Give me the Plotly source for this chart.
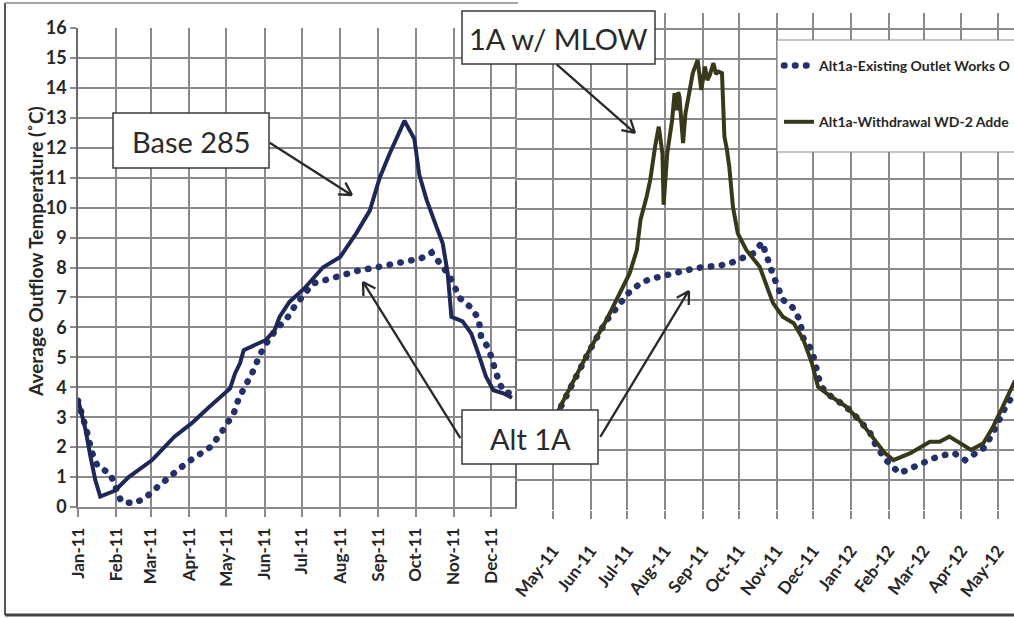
import math
import plotly.graph_objects as go

W, H = 1014, 618

# ---------------- data ----------------
base285_dates = ["2011-01-01","2011-01-05","2011-01-07","2011-01-11","2011-01-15","2011-01-19","2011-01-31",
    "2011-02-11","2011-03-02","2011-03-20","2011-04-03","2011-04-16","2011-04-27","2011-05-04","2011-05-08",
    "2011-05-12","2011-05-15","2011-05-25","2011-06-02","2011-06-09","2011-06-13","2011-06-21","2011-07-03",
    "2011-07-18","2011-08-01","2011-08-14","2011-08-25","2011-09-02","2011-09-10","2011-09-22","2011-09-30",
    "2011-10-04","2011-10-10","2011-10-18","2011-10-23","2011-10-27","2011-10-30","2011-11-08","2011-11-15",
    "2011-11-21","2011-11-27","2011-12-03","2011-12-11","2011-12-18"]
base285_vals = [3.6,3.0,2.6,1.7,0.9,0.35,0.55,1.0,1.57,2.35,2.8,3.3,3.68,3.96,4.46,4.8,5.24,5.41,5.58,5.9,
    6.35,6.85,7.3,8.0,8.35,9.14,9.9,11.0,11.8,12.9,12.3,11.1,10.25,9.35,8.8,7.8,6.35,6.2,5.8,5.1,4.35,3.9,3.8,3.65]

alt1a_left_dates = ["2011-01-01","2011-01-05","2011-01-09","2011-01-12","2011-01-17","2011-01-27","2011-02-05",
    "2011-02-15","2011-02-24","2011-03-04","2011-03-14","2011-03-22","2011-03-31","2011-04-09","2011-04-18",
    "2011-04-25","2011-05-01","2011-05-07","2011-05-11","2011-05-17","2011-05-23","2011-05-28","2011-06-04",
    "2011-06-11","2011-06-19","2011-06-25","2011-07-10","2011-07-20","2011-07-29","2011-08-08","2011-08-17",
    "2011-08-26","2011-09-06","2011-09-16","2011-09-25","2011-10-05","2011-10-14","2011-10-28","2011-11-06",
    "2011-11-14","2011-11-21","2011-11-23","2011-11-29","2011-12-03","2011-12-07","2011-12-11","2011-12-17"]
alt1a_left_vals = [3.55,3.0,2.4,1.85,1.35,1.12,0.18,0.12,0.29,0.59,0.9,1.21,1.51,1.74,2.0,2.37,2.74,3.13,3.63,
    4.07,4.57,5.08,5.58,5.97,6.3,6.69,7.47,7.58,7.69,7.8,7.91,7.97,8.06,8.14,8.19,8.3,8.5,7.75,6.97,6.69,6.3,
    5.69,5.3,4.74,4.24,3.85,3.8]

existing_dates = ["2011-04-01","2011-05-01","2011-05-07","2011-05-18","2011-05-31","2011-06-14","2011-06-26",
    "2011-07-03","2011-07-12","2011-07-18","2011-07-28","2011-08-07","2011-08-16","2011-08-26","2011-09-04",
    "2011-09-14","2011-09-24","2011-10-03","2011-10-13","2011-10-20","2011-10-24","2011-10-29","2011-11-06",
    "2011-11-14","2011-11-20","2011-11-23","2011-11-30","2011-12-03","2011-12-07","2011-12-12","2011-12-28",
    "2012-01-08","2012-01-17","2012-01-22","2012-01-30","2012-02-10","2012-02-20","2012-03-01","2012-03-09",
    "2012-03-18","2012-03-26","2012-04-04","2012-04-12","2012-04-19","2012-04-26","2012-05-02","2012-05-08",
    "2012-05-15"]
existing_vals = [1.9,2.9,3.4,4.3,5.3,6.3,6.88,7.26,7.54,7.65,7.76,7.87,7.93,8.04,8.09,8.12,8.21,8.34,8.54,8.9,
    8.4,7.82,7.0,6.74,6.32,5.71,5.32,4.77,4.16,3.88,3.44,2.99,2.55,2.11,1.66,1.22,1.39,1.61,1.72,1.83,1.89,1.66,
    1.89,2.05,2.49,2.99,3.49,3.9]

wd2_dates = ["2011-04-01","2011-05-01","2011-05-07","2011-05-18","2011-05-31","2011-06-14","2011-06-25",
    "2011-07-03","2011-07-09","2011-07-12","2011-07-17","2011-07-20","2011-07-24","2011-07-27","2011-07-30",
    "2011-07-31","2011-08-03","2011-08-07","2011-08-09","2011-08-11","2011-08-12","2011-08-13","2011-08-16",
    "2011-08-18","2011-08-20","2011-08-22","2011-08-24","2011-08-28","2011-08-31","2011-09-03","2011-09-05",
    "2011-09-07","2011-09-10","2011-09-12","2011-09-14","2011-09-17","2011-09-19","2011-09-21","2011-09-23",
    "2011-09-26","2011-09-30","2011-10-07","2011-10-15","2011-10-18","2011-10-29","2011-11-06",
    "2011-11-15","2011-11-23","2011-11-30","2011-12-05","2011-12-12","2011-12-28","2012-01-08","2012-01-19",
    "2012-01-29","2012-02-05","2012-02-19","2012-03-06","2012-03-14","2012-03-22","2012-03-31","2012-04-09",
    "2012-04-19","2012-04-27","2012-05-05","2012-05-12","2012-05-15"]
wd2_vals = [1.8,2.9,3.44,4.32,5.32,6.32,7.2,7.87,8.65,9.65,10.42,10.98,12.09,12.75,11.87,10.15,11.87,12.97,
    13.86,13.3,13.9,13.75,12.2,13.2,13.64,14.1,14.53,14.97,13.97,14.75,14.3,14.47,14.86,14.5,14.58,14.53,12.42,
    12.0,11.42,10.09,9.2,8.65,8.21,8.09,6.88,6.43,6.21,5.66,4.88,4.1,3.88,3.44,2.99,2.44,1.89,1.66,1.89,2.27,
    2.27,2.44,2.22,2.0,2.22,2.77,3.44,4.1,4.3]

left_tick_dates = ["2011-%02d-01" % m for m in range(1, 13)]
left_tick_text = ["Jan-11","Feb-11","Mar-11","Apr-11","May-11","Jun-11","Jul-11","Aug-11","Sep-11",
                  "Oct-11","Nov-11","Dec-11"]
right_tick_dates = ["2011-05-01","2011-06-01","2011-07-01","2011-08-01","2011-09-01","2011-10-01",
                    "2011-11-01","2011-12-01","2012-01-01","2012-02-01","2012-03-01","2012-04-01","2012-05-01"]
right_tick_text = ["May-11","Jun-11","Jul-11","Aug-11","Sep-11","Oct-11","Nov-11","Dec-11","Jan-12",
                   "Feb-12","Mar-12","Apr-12","May-12"]

# ---------------- styling ----------------
GRID = "#8a8a8a"
NAVY = "#1e2757"
DOTBLUE = "#25306a"
OLIVE = "#38381a"
TXT = "#262626"
FONT = "Lato, Liberation Sans, sans-serif"
DOT_DASH = "0.5px,10.5px"

def px(x):
    return x / W

def py(y):
    return 1 - y / H

fig = go.Figure()

fig.add_trace(go.Scatter(x=alt1a_left_dates, y=alt1a_left_vals, mode="lines", xaxis="x", yaxis="y",
                         line=dict(color=DOTBLUE, width=6.5, dash=DOT_DASH), showlegend=False))
fig.add_trace(go.Scatter(x=base285_dates, y=base285_vals, mode="lines", xaxis="x", yaxis="y",
                         line=dict(color=NAVY, width=4), showlegend=False))
fig.add_trace(go.Scatter(x=existing_dates, y=existing_vals, mode="lines", xaxis="x2", yaxis="y2",
                         name="Alt1a-Existing Outlet Works O", legendgroup="a",
                         line=dict(color=DOTBLUE, width=6.5, dash=DOT_DASH)))
fig.add_trace(go.Scatter(x=wd2_dates, y=wd2_vals, mode="lines", xaxis="x2", yaxis="y2",
                         name="Alt1a-Withdrawal WD-2 Adde", legendgroup="b",
                         line=dict(color=OLIVE, width=4)))

ytickfont = dict(family=FONT, size=18, color=TXT, weight="bold")
xtickfont = dict(family=FONT, size=17, color=TXT, weight="bold")

fig.update_layout(
    width=W, height=H,
    margin=dict(l=0, r=0, t=0, b=0, autoexpand=False),
    paper_bgcolor="white", plot_bgcolor="white",
    xaxis=dict(domain=[px(78), px(515)], anchor="y", type="date",
               range=["2011-01-01", "2011-12-20 10:00"],
               tickmode="array", tickvals=left_tick_dates, ticktext=left_tick_text,
               tickangle=-90, tickfont=xtickfont, ticks="outside", ticklen=8, tickcolor=GRID,
               tickwidth=1.5, ticklabelstandoff=4,
               showgrid=True, gridcolor=GRID, gridwidth=1.5, showline=True, linecolor=GRID,
               linewidth=1.5, zeroline=False),
    yaxis=dict(domain=[py(507), py(28)], anchor="x", range=[0, 16], dtick=1,
               tickfont=ytickfont, ticks="outside", ticklen=6, tickcolor=GRID, tickwidth=1.5,
               showgrid=True, gridcolor=GRID, gridwidth=1.5, showline=True, mirror=True,
               linecolor="#6a6a6a", linewidth=1.5, zeroline=False),
    xaxis2=dict(domain=[px(515), 1.0], anchor="y2", type="date",
                range=["2011-03-30 18:00", "2012-05-14 05:00"],
                tickmode="array", tickvals=right_tick_dates, ticktext=right_tick_text,
                tickangle=-53, tickfont=xtickfont, ticks="outside", ticklen=8, tickcolor=GRID,
                tickwidth=1.5, ticklabelstandoff=15,
                showgrid=True, gridcolor=GRID, gridwidth=1.5, zeroline=False),
    yaxis2=dict(domain=[py(510), py(13)], anchor="x2", range=[0, 16.53], dtick=1,
                showticklabels=False, ticks="", showgrid=True, gridcolor=GRID, gridwidth=1.5,
                zeroline=False),
    legend=dict(x=px(779), y=py(50), xanchor="left", yanchor="top", bgcolor="rgba(0,0,0,0)",
                borderwidth=0, font=dict(family=FONT, size=14, color=TXT, weight="bold"),
                traceorder="grouped", tracegroupgap=35),
)

shapes = []
# outer frame
shapes.append(dict(type="line", xref="paper", yref="paper", x0=px(5), y0=py(3), x1=px(5), y1=py(615),
                   line=dict(color="#555555", width=2)))
shapes.append(dict(type="line", xref="paper", yref="paper", x0=px(5), y0=py(615), x1=1.0, y1=py(615),
                   line=dict(color="#444444", width=3)))
shapes.append(dict(type="line", xref="paper", yref="paper", x0=px(5), y0=py(3), x1=px(518), y1=py(3),
                   line=dict(color="#888888", width=1.5)))
# fragment of left legend edge
shapes.append(dict(type="line", xref="paper", yref="paper", x0=px(516), y0=py(66), x1=px(516), y1=py(182),
                   line=dict(color="#999999", width=1.2)))
# legend box
shapes.append(dict(type="rect", xref="paper", yref="paper", x0=px(777), y0=py(152), x1=px(1030), y1=py(40),
                   fillcolor="white", line=dict(color="#8a8a8a", width=1.2), layer="above"))
# callout boxes
boxes = [((113, 113, 269, 168), "Base 285"), ((462, 11, 655, 64), "1A w/ MLOW"), ((462, 410, 598, 464), "Alt 1A")]
annotations = []
for (x0, y0, x1, y1), label in boxes:
    shapes.append(dict(type="rect", xref="paper", yref="paper", x0=px(x0), y0=py(y1), x1=px(x1), y1=py(y0),
                       fillcolor="white", line=dict(color="#3a3a3a", width=1.5), layer="above"))
    annotations.append(dict(xref="paper", yref="paper", x=px((x0 + x1) / 2), y=py((y0 + y1) / 2 + 1),
                            text=label, showarrow=False, xanchor="center", yanchor="middle",
                            font=dict(family=FONT, size=29, color="#2a2a2a")))

# arrows: (tip, tail) in pixels; drawn as a line plus an open V head
arrows = [((352, 195), (270, 143)), ((635, 133), (557, 64)), ((363, 282), (460, 438)), ((689, 291), (600, 437))]
HEAD_LEN, HEAD_ANG = 14, math.radians(30)
for (tx, ty), (sx, sy) in arrows:
    ang = math.atan2(sy - ty, sx - tx)  # direction from tip back toward tail
    path = "M %.3f,%.3f L %.3f,%.3f" % (px(sx), py(sy), px(tx), py(ty))
    for s in (-1, 1):
        hx = tx + HEAD_LEN * math.cos(ang + s * HEAD_ANG)
        hy = ty + HEAD_LEN * math.sin(ang + s * HEAD_ANG)
        path += " M %.4f,%.4f L %.4f,%.4f" % (px(tx), py(ty), px(hx), py(hy))
    shapes.append(dict(type="path", xref="paper", yref="paper", path=path,
                       line=dict(color="#2a2a2a", width=2.3), layer="above"))

annotations.append(dict(xref="paper", yref="paper", x=px(35), y=py(252), text="Average Outflow Temperature (˚C)",
                        textangle=-90, showarrow=False, xanchor="center", yanchor="middle",
                        font=dict(family=FONT, size=19, color=TXT, weight="bold")))

fig.update_layout(shapes=shapes, annotations=annotations)

post = """
function roundDots(){
  document.querySelectorAll('path').forEach(function(p){
    var d = (p.style.strokeDasharray || '').replace(/\\s/g,'');
    if (d.indexOf('0.5px,10.5px') === 0) { p.style.strokeLinecap = 'round'; }
  });
}
roundDots();
setTimeout(roundDots, 50);
setTimeout(roundDots, 300);
"""
fig.write_html("out.html", post_script=post)
